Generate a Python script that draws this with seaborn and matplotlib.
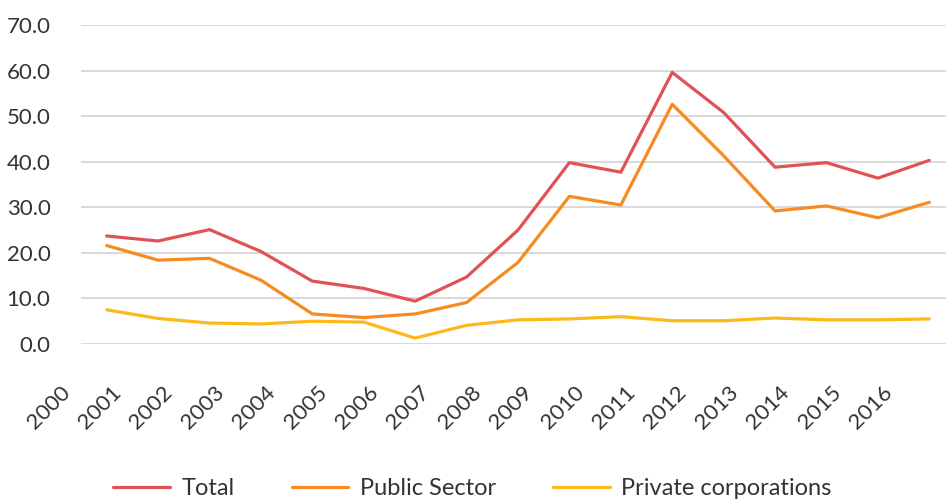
import matplotlib
matplotlib.use("Agg")
import matplotlib.pyplot as plt
import matplotlib.transforms as mtransforms
from matplotlib.lines import Line2D
import seaborn as sns
import pandas as pd

years = list(range(2000, 2017))
total = [23.7, 22.6, 25.1, 20.3, 13.8, 12.2, 9.4, 14.7, 25.0, 39.8, 37.7, 59.6, 50.8, 38.8, 39.8, 36.4, 40.3]
public_sector = [21.6, 18.4, 18.8, 14.0, 6.6, 5.8, 6.6, 9.1, 17.9, 32.4, 30.5, 52.6, 41.3, 29.2, 30.3, 27.7, 31.1]
private_corp = [7.5, 5.6, 4.6, 4.4, 5.0, 4.8, 1.3, 4.1, 5.3, 5.5, 6.0, 5.1, 5.1, 5.7, 5.3, 5.3, 5.5]
series_names = ["Total", "Public Sector", "Private corporations"]
colors = ["#e05256", "#f78b20", "#fdb81b"]

df = pd.DataFrame({
    "year": years * 3,
    "value": total + public_sector + private_corp,
    "series": [series_names[0]] * len(years) + [series_names[1]] * len(years) + [series_names[2]] * len(years),
})

sns.set_theme(style="white")
plt.rcParams["font.family"] = ["Lato", "DejaVu Sans"]

fig = plt.figure(figsize=(9.46, 5.01), dpi=100)
W, H = 946, 501
ax = fig.add_axes([81 / W, 1 - 344 / H, (955 - 81) / W, (344 - 25) / H])

sns.lineplot(data=df, x="year", y="value", hue="series", hue_order=series_names,
             palette=colors, linewidth=2.3, ax=ax, legend=False)

ax.set_xlim(1999.5, 2016.5)
ax.set_ylim(0, 70)
ax.set_yticks(range(0, 71, 10))
ax.set_yticklabels([f"{v:.1f}" for v in range(0, 71, 10)])
ax.set_xticks(years)
ax.set_xticklabels([str(y) for y in years])
ax.yaxis.grid(True, color="#d9d9d9", linewidth=1.4)
ax.xaxis.grid(False)
ax.set_axisbelow(True)
for s in ax.spines.values():
    s.set_visible(False)
ax.set_xlabel("")
ax.set_ylabel("")
ax.tick_params(axis="y", length=0, pad=22, labelsize=16, labelcolor="#333333")
ax.tick_params(axis="x", length=0, pad=0, labelsize=16, labelcolor="#333333")
off = mtransforms.ScaledTranslation(-0.40, -0.45, fig.dpi_scale_trans)
for lab in ax.get_xticklabels():
    lab.set_rotation(45)
    lab.set_ha("right")
    lab.set_va("center")
    lab.set_rotation_mode("anchor")
    lab.set_transform(lab.get_transform() + off)

handles = [Line2D([0], [0], color=c, lw=2.3) for c in colors]
fig.legend(handles, series_names, loc="center", bbox_to_anchor=(0.4995, 0.024),
           ncol=3, frameon=False, fontsize=17, handlelength=2.4, handletextpad=0.5,
           columnspacing=2.4, borderpad=0, labelcolor="#333333")

fig.savefig("out.png", dpi=100)
